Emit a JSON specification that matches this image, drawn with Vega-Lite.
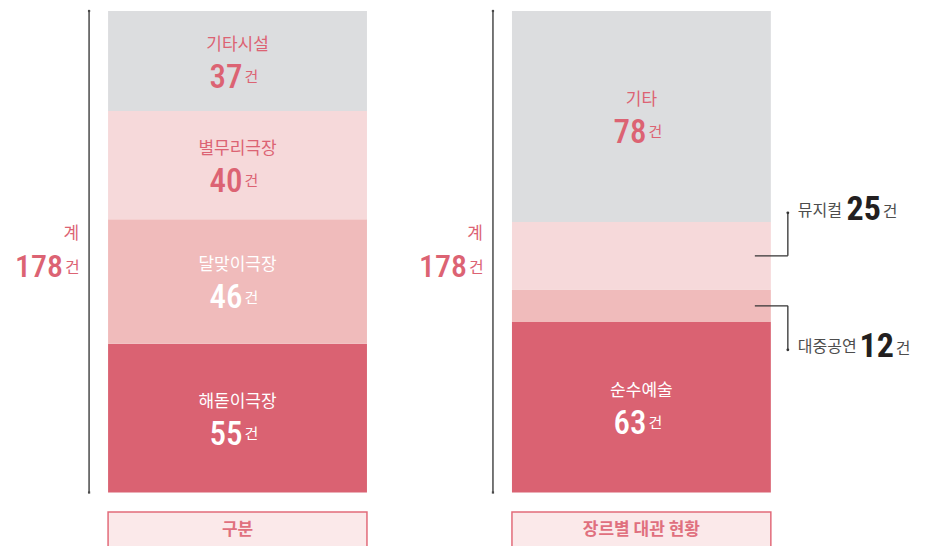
{
  "$schema": "https://vega.github.io/schema/vega-lite/v6.json",
  "width": 935,
  "height": 546,
  "autosize": {"type": "fit", "contains": "padding"},
  "padding": 0,
  "background": "white",
  "config": {
    "view": {"stroke": null},
    "axis": {"disable": true},
    "legend": {"disable": true},
    "text": {"font": "Noto Sans CJK KR"}
  },
  "datasets": {
    "seg": [
      {"panel": "구분", "category": "해돋이극장", "value": 55, "rank": 1},
      {"panel": "구분", "category": "달맞이극장", "value": 46, "rank": 2},
      {"panel": "구분", "category": "별무리극장", "value": 40, "rank": 3},
      {"panel": "구분", "category": "기타시설", "value": 37, "rank": 4},
      {"panel": "장르별 대관 현황", "category": "순수예술", "value": 63, "rank": 1},
      {"panel": "장르별 대관 현황", "category": "대중공연", "value": 12, "rank": 2},
      {"panel": "장르별 대관 현황", "category": "뮤지컬", "value": 25, "rank": 3},
      {"panel": "장르별 대관 현황", "category": "기타", "value": 78, "rank": 4}
    ],
    "panels": [
      {"panel": "구분", "total": 178},
      {"panel": "장르별 대관 현황", "total": 178}
    ]
  },
  "layer": [
    {
      "data": {"name": "seg"},
      "transform": [
        {"stack": "value", "groupby": ["panel"], "sort": [{"field": "rank", "order": "ascending"}], "as": ["v0", "v1"]},
        {"calculate": "(datum.v0 + datum.v1) / 2", "as": "mid"}
      ],
      "layer": [
        {
          "mark": {"type": "bar"},
          "encoding": {
            "x": {"field": "panel", "type": "nominal", "scale": {"domain": ["구분", "장르별 대관 현황"], "paddingInner": 0.359, "paddingOuter": 0.337, "align": 0.397}},
            "y": {"field": "v0", "type": "quantitative", "scale": {"domain": [-19.777, 182.066], "nice": false, "zero": false}},
            "y2": {"field": "v1"},
            "color": {"field": "rank", "type": "ordinal", "scale": {"domain": [1, 2, 3, 4], "range": ["#DA6272", "#F0BBBB", "#F6D9DA", "#DCDDDF"]}}
          }
        },
        {
          "transform": [{"filter": "datum.value >= 30"}],
          "mark": {"type": "text", "baseline": "middle", "dy": -16.5, "fontSize": 17, "font": "Noto Sans CJK KR"},
          "encoding": {
            "x": {"field": "panel", "type": "nominal"},
            "y": {"field": "mid", "type": "quantitative", "scale": {"domain": [-19.777, 182.066], "nice": false, "zero": false}},
            "text": {"field": "category"},
            "color": {"condition": {"test": "datum.rank <= 2", "value": "#FFFFFF"}, "value": "#DC6373"}
          }
        },
        {
          "transform": [{"filter": "datum.value >= 30"}],
          "mark": {"type": "text", "align": "right", "baseline": "alphabetic", "dx": 5, "dy": 26.5, "fontSize": 33, "fontWeight": 500, "font": "Roboto Condensed, Roboto"},
          "encoding": {
            "x": {"field": "panel", "type": "nominal"},
            "y": {"field": "mid", "type": "quantitative", "scale": {"domain": [-19.777, 182.066], "nice": false, "zero": false}},
            "text": {"field": "value"},
            "color": {"condition": {"test": "datum.rank <= 2", "value": "#FFFFFF"}, "value": "#DC6373"}
          }
        },
        {
          "transform": [{"filter": "datum.value >= 30"}],
          "mark": {"type": "text", "align": "left", "baseline": "alphabetic", "dx": 7, "dy": 21, "fontSize": 15, "font": "Noto Sans CJK KR"},
          "encoding": {
            "x": {"field": "panel", "type": "nominal"},
            "y": {"field": "mid", "type": "quantitative", "scale": {"domain": [-19.777, 182.066], "nice": false, "zero": false}},
            "text": {"value": "건"},
            "color": {"condition": {"test": "datum.rank <= 2", "value": "#FFFFFF"}, "value": "#DC6373"}
          }
        },
        {
          "transform": [{"filter": "datum.value < 30"}],
          "mark": {"type": "rule", "color": "#333333", "strokeWidth": 1.3, "xOffset": -16, "x2Offset": 17},
          "encoding": {
            "x": {"field": "panel", "type": "nominal", "bandPosition": 1},
            "x2": {"field": "panel", "bandPosition": 1},
            "y": {"field": "mid", "type": "quantitative", "scale": {"domain": [-19.777, 182.066], "nice": false, "zero": false}}
          }
        },
        {
          "transform": [{"filter": "datum.value < 30 && datum.rank == 3"}],
          "layer": [
            {
              "mark": {"type": "rule", "color": "#333333", "strokeWidth": 1.3, "xOffset": 17, "y2Offset": -43},
              "encoding": {
                "x": {"field": "panel", "type": "nominal", "bandPosition": 1},
                "y": {"field": "mid", "type": "quantitative", "scale": {"domain": [-19.777, 182.066], "nice": false, "zero": false}},
                "y2": {"field": "mid"}
              }
            },
            {
              "mark": {"type": "point", "filled": true, "color": "#333333", "size": 8, "opacity": 1, "xOffset": 17, "yOffset": -43},
              "encoding": {
                "x": {"field": "panel", "type": "nominal", "bandPosition": 1},
                "y": {"field": "mid", "type": "quantitative", "scale": {"domain": [-19.777, 182.066], "nice": false, "zero": false}}
              }
            },
            {
              "mark": {"type": "text", "align": "left", "baseline": "alphabetic", "dx": 27, "dy": -40, "fontSize": 16, "color": "#4D4D4D", "font": "Noto Sans CJK KR"},
              "encoding": {
                "x": {"field": "panel", "type": "nominal", "bandPosition": 1},
                "y": {"field": "mid", "type": "quantitative", "scale": {"domain": [-19.777, 182.066], "nice": false, "zero": false}},
                "text": {"field": "category"}
              }
            },
            {
              "mark": {"type": "text", "align": "right", "baseline": "alphabetic", "dx": 110, "dy": -36, "fontSize": 34, "fontWeight": "bold", "color": "#231F20", "font": "Roboto Condensed, Roboto"},
              "encoding": {
                "x": {"field": "panel", "type": "nominal", "bandPosition": 1},
                "y": {"field": "mid", "type": "quantitative", "scale": {"domain": [-19.777, 182.066], "nice": false, "zero": false}},
                "text": {"field": "value"}
              }
            },
            {
              "mark": {"type": "text", "align": "left", "baseline": "alphabetic", "dx": 112, "dy": -39, "fontSize": 16, "color": "#4D4D4D", "font": "Noto Sans CJK KR"},
              "encoding": {
                "x": {"field": "panel", "type": "nominal", "bandPosition": 1},
                "y": {"field": "mid", "type": "quantitative", "scale": {"domain": [-19.777, 182.066], "nice": false, "zero": false}},
                "text": {"value": "건"}
              }
            }
          ]
        },
        {
          "transform": [{"filter": "datum.value < 30 && datum.rank == 2"}],
          "layer": [
            {
              "mark": {"type": "rule", "color": "#333333", "strokeWidth": 1.3, "xOffset": 17, "y2Offset": 44},
              "encoding": {
                "x": {"field": "panel", "type": "nominal", "bandPosition": 1},
                "y": {"field": "mid", "type": "quantitative", "scale": {"domain": [-19.777, 182.066], "nice": false, "zero": false}},
                "y2": {"field": "mid"}
              }
            },
            {
              "mark": {"type": "point", "filled": true, "color": "#333333", "size": 8, "opacity": 1, "xOffset": 17, "yOffset": 44},
              "encoding": {
                "x": {"field": "panel", "type": "nominal", "bandPosition": 1},
                "y": {"field": "mid", "type": "quantitative", "scale": {"domain": [-19.777, 182.066], "nice": false, "zero": false}}
              }
            },
            {
              "mark": {"type": "text", "align": "left", "baseline": "alphabetic", "dx": 27, "dy": 46, "fontSize": 16, "color": "#4D4D4D", "font": "Noto Sans CJK KR"},
              "encoding": {
                "x": {"field": "panel", "type": "nominal", "bandPosition": 1},
                "y": {"field": "mid", "type": "quantitative", "scale": {"domain": [-19.777, 182.066], "nice": false, "zero": false}},
                "text": {"field": "category"}
              }
            },
            {
              "mark": {"type": "text", "align": "right", "baseline": "alphabetic", "dx": 123, "dy": 51, "fontSize": 34, "fontWeight": "bold", "color": "#231F20", "font": "Roboto Condensed, Roboto"},
              "encoding": {
                "x": {"field": "panel", "type": "nominal", "bandPosition": 1},
                "y": {"field": "mid", "type": "quantitative", "scale": {"domain": [-19.777, 182.066], "nice": false, "zero": false}},
                "text": {"field": "value"}
              }
            },
            {
              "mark": {"type": "text", "align": "left", "baseline": "alphabetic", "dx": 125, "dy": 48, "fontSize": 16, "color": "#4D4D4D", "font": "Noto Sans CJK KR"},
              "encoding": {
                "x": {"field": "panel", "type": "nominal", "bandPosition": 1},
                "y": {"field": "mid", "type": "quantitative", "scale": {"domain": [-19.777, 182.066], "nice": false, "zero": false}},
                "text": {"value": "건"}
              }
            }
          ]
        }
      ]
    },
    {
      "data": {"name": "panels"},
      "transform": [{"calculate": "datum.total / 2", "as": "half"}],
      "layer": [
        {
          "mark": {"type": "rule", "color": "#4A4A4A", "strokeWidth": 1.5, "xOffset": -19},
          "encoding": {
            "x": {"field": "panel", "type": "nominal", "bandPosition": 0},
            "y": {"field": "total", "type": "quantitative", "scale": {"domain": [-19.777, 182.066], "nice": false, "zero": false}},
            "y2": {"datum": 0}
          }
        },
        {
          "mark": {"type": "point", "shape": "square", "filled": true, "color": "#4A4A4A", "size": 5, "opacity": 1, "xOffset": -19},
          "encoding": {
            "x": {"field": "panel", "type": "nominal", "bandPosition": 0},
            "y": {"field": "total", "type": "quantitative", "scale": {"domain": [-19.777, 182.066], "nice": false, "zero": false}}
          }
        },
        {
          "mark": {"type": "point", "shape": "square", "filled": true, "color": "#4A4A4A", "size": 5, "opacity": 1, "xOffset": -19},
          "encoding": {
            "x": {"field": "panel", "type": "nominal", "bandPosition": 0},
            "y": {"datum": 0, "type": "quantitative", "scale": {"domain": [-19.777, 182.066], "nice": false, "zero": false}}
          }
        },
        {
          "mark": {"type": "text", "align": "right", "baseline": "middle", "dx": -29, "dy": -18, "fontSize": 17, "color": "#DC6373", "font": "Noto Sans CJK KR"},
          "encoding": {
            "x": {"field": "panel", "type": "nominal", "bandPosition": 0},
            "y": {"field": "half", "type": "quantitative", "scale": {"domain": [-19.777, 182.066], "nice": false, "zero": false}},
            "text": {"value": "계"}
          }
        },
        {
          "mark": {"type": "text", "align": "right", "baseline": "alphabetic", "dx": -45, "dy": 25, "fontSize": 32, "fontWeight": 500, "color": "#DC6373", "font": "Roboto Condensed, Roboto"},
          "encoding": {
            "x": {"field": "panel", "type": "nominal", "bandPosition": 0},
            "y": {"field": "half", "type": "quantitative", "scale": {"domain": [-19.777, 182.066], "nice": false, "zero": false}},
            "text": {"field": "total"}
          }
        },
        {
          "mark": {"type": "text", "align": "left", "baseline": "alphabetic", "dx": -43, "dy": 21, "fontSize": 16, "color": "#DC6373", "font": "Noto Sans CJK KR"},
          "encoding": {
            "x": {"field": "panel", "type": "nominal", "bandPosition": 0},
            "y": {"field": "half", "type": "quantitative", "scale": {"domain": [-19.777, 182.066], "nice": false, "zero": false}},
            "text": {"value": "건"}
          }
        },
        {
          "mark": {"type": "bar", "fill": "#FBE9EA", "stroke": "#E26B7A", "strokeWidth": 1.5, "clip": true},
          "encoding": {
            "x": {"field": "panel", "type": "nominal"},
            "y": {"datum": -7.21, "type": "quantitative", "scale": {"domain": [-19.777, 182.066], "nice": false, "zero": false}},
            "y2": {"datum": -30}
          }
        },
        {
          "mark": {"type": "text", "baseline": "middle", "dy": 18, "fontSize": 17, "fontWeight": "bold", "color": "#E0707E", "font": "Noto Sans CJK KR"},
          "encoding": {
            "x": {"field": "panel", "type": "nominal"},
            "y": {"datum": -7.21, "type": "quantitative", "scale": {"domain": [-19.777, 182.066], "nice": false, "zero": false}},
            "text": {"field": "panel"}
          }
        }
      ]
    }
  ]
}
